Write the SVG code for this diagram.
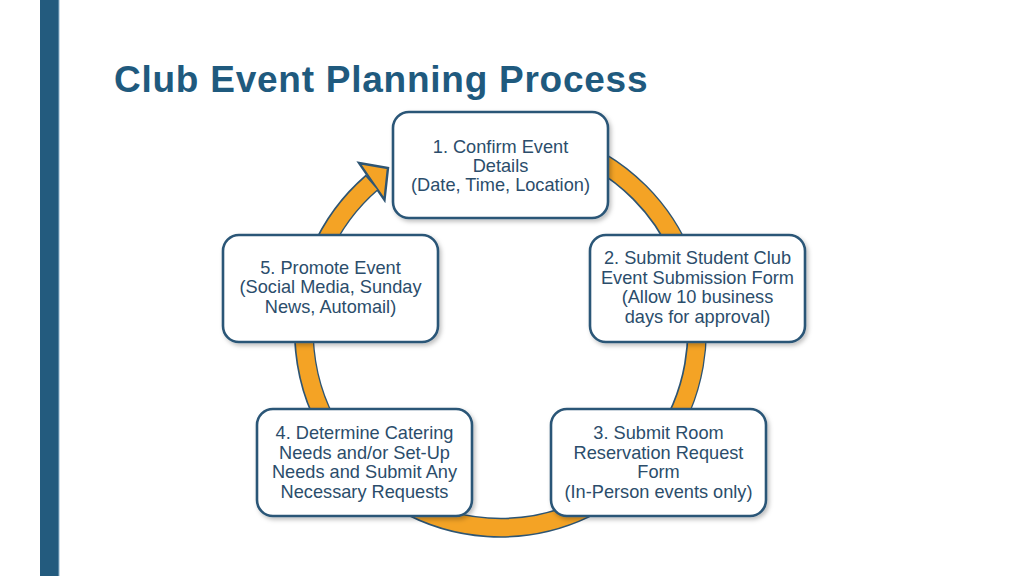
<svg xmlns="http://www.w3.org/2000/svg" width="1024" height="576" viewBox="0 0 1024 576">
  <defs>
    <filter id="sh" x="-10%" y="-10%" width="125%" height="130%">
      <feDropShadow dx="2" dy="2.5" stdDeviation="2" flood-color="#000" flood-opacity="0.25"/>
    </filter>
  </defs>
  <style>
    .box { fill: #ffffff; stroke: #2C5677; stroke-width: 2.6; filter: url(#sh); }
    .lbl { font-family: "Liberation Sans", Arial, sans-serif; font-size: 18.2px; fill: #2B4D6B; text-anchor: middle; }
    .title { font-family: "Liberation Sans", Arial, sans-serif; font-size: 37px; font-weight: bold; fill: #1F5A7E; letter-spacing: 0.75px; }
    .ringDark { fill: none; stroke: #2E5573; stroke-width: 20; }
    .ringOr { fill: none; stroke: #F4A325; stroke-width: 17; }
  </style>
  <rect width="1024" height="576" fill="#ffffff"/>
  <rect x="40" y="0" width="19" height="576" fill="#235B7E"/>
  <rect x="58.5" y="0" width="1" height="576" fill="#8FB3CC"/>
  <text class="title" x="114" y="92">Club Event Planning Process</text>

  <g id="connectors">
    <path class="ringDark" d="M 467.4 137.5 A 196.5 196.5 0 1 1 372.3 182.2"/>
    <polygon points="359,163 388,168 384.5,200" fill="#F4A325" stroke="#2E5573" stroke-width="2.4" stroke-linejoin="miter"/>
    <path class="ringOr" d="M 467.4 137.5 A 196.5 196.5 0 1 1 371.4 183.1"/>
  </g>

  <g id="node1">
    <rect class="box" x="393" y="112" width="215" height="106" rx="16"/>
    <text class="lbl" x="500.5" y="152.7">1. Confirm Event</text>
    <text class="lbl" x="500.5" y="171.7">Details</text>
    <text class="lbl" x="500.5" y="190.7">(Date, Time, Location)</text>
  </g>
  <g id="node2">
    <rect class="box" x="590" y="235" width="215" height="107" rx="16"/>
    <text class="lbl" x="697.5" y="264">2. Submit Student Club</text>
    <text class="lbl" x="697.5" y="283.5">Event Submission Form</text>
    <text class="lbl" x="697.5" y="303">(Allow 10 business</text>
    <text class="lbl" x="697.5" y="322.5">days for approval)</text>
  </g>
  <g id="node3">
    <rect class="box" x="551" y="409" width="215" height="107" rx="16"/>
    <text class="lbl" x="658.5" y="439">3. Submit Room</text>
    <text class="lbl" x="658.5" y="458.5">Reservation Request</text>
    <text class="lbl" x="658.5" y="478">Form</text>
    <text class="lbl" x="658.5" y="497.5">(In-Person events only)</text>
  </g>
  <g id="node4">
    <rect class="box" x="257" y="409" width="215" height="107" rx="16"/>
    <text class="lbl" x="364.5" y="439">4. Determine Catering</text>
    <text class="lbl" x="364.5" y="458.5">Needs and/or Set-Up</text>
    <text class="lbl" x="364.5" y="478">Needs and Submit Any</text>
    <text class="lbl" x="364.5" y="497.5">Necessary Requests</text>
  </g>
  <g id="node5">
    <rect class="box" x="223" y="235" width="215" height="107" rx="16"/>
    <text class="lbl" x="330.5" y="274">5. Promote Event</text>
    <text class="lbl" x="330.5" y="293.3">(Social Media, Sunday</text>
    <text class="lbl" x="330.5" y="312.7">News, Automail)</text>
  </g>
</svg>
